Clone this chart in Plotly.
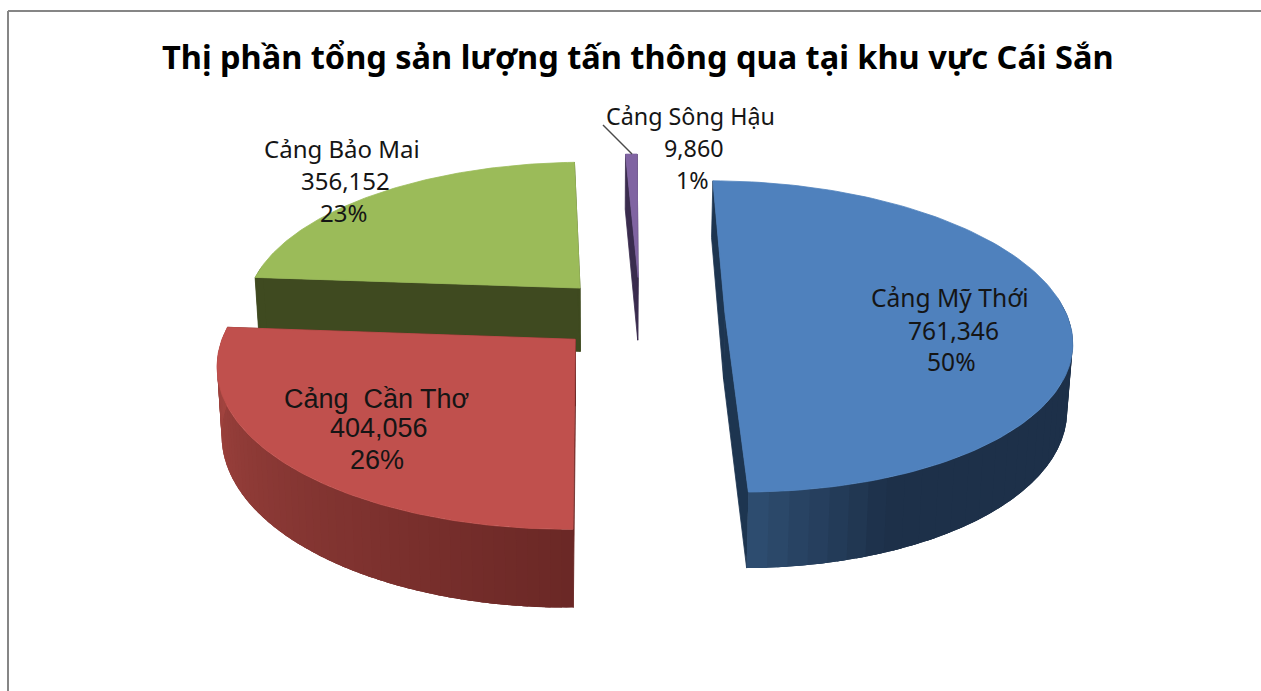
import numpy as np
import plotly.graph_objects as go

title = "Thị phần tổng sản lượng tấn thông qua tại khu vực Cái Sắn"
categories = ["Cảng Mỹ Thới", "Cảng Cần Thơ", "Cảng Bảo Mai", "Cảng Sông Hậu"]
values = [761346, 404056, 356152, 9860]
percent_labels = ["50%", "26%", "23%", "1%"]
top_colors = ["#4F81BD", "#C0504D", "#9BBB59", "#8064A2"]
wall_near = ["#2F4F73", "#6B2826", "#3F4A20", "#3A2C4E"]
wall_far = ["#1D3049", "#A54641", "#3F4A20", "#3A2C4E"]

# view of the pie
CX, CY, A, B, K, H, ROT = 615.0, 313.8, 338.0, 150.8, 0.144, 65.0, 0.354
SQUEEZE, SQ_X = 0.988, 600.0
explode = [(0.3255, 0.0), (-0.115, -0.165), (-0.106, 0.175), (0.071, 0.25)]
radius = [1.01, 1.02, 1.0, 1.0]

def project(X, Y, down=0.0):
    w = 1 + K * Y
    sx = CX + A * X / w
    sy = CY - B * Y / w + down * H / w
    sx = SQ_X + (sx - SQ_X) * (1 - (1 - SQUEEZE) * down)
    return sx, sy

total = sum(values)
edges = np.concatenate([[0], np.cumsum(values)]) / total * 360 + ROT

def hexmix(c1, c2, t):
    a = [int(c1[i:i + 2], 16) for i in (1, 3, 5)]
    b = [int(c2[i:i + 2], 16) for i in (1, 3, 5)]
    return "#%02x%02x%02x" % tuple(int(round(p + (q - p) * t)) for p, q in zip(a, b))

fig = go.Figure()

def poly(xs, ys, color, outline=True):
    fig.add_trace(go.Scatter(x=xs, y=ys, mode="lines" if outline else "none", fill="toself", fillcolor=color,
                             line=dict(color=color, width=0.8), hoverinfo="skip", showlegend=False))

def draw_slice(i):
    t0, t1 = np.radians(edges[i]), np.radians(edges[i + 1])
    ex, ey = explode[i]
    r = radius[i]
    def pt(t):
        return ex + r * np.sin(t), ey + r * np.cos(t)
    ang = np.linspace(t0, t1, 121)
    X, Y = pt(ang)
    # straight walls
    edge_colors = {0: "#1D3550", 1: "#6B2826"}
    for t in (t0, t1):
        px, py = pt(t)
        x0, y0 = project(ex, ey)
        x1, y1 = project(px, py)
        x2, y2 = project(px, py, 1.0)
        x3, y3 = project(ex, ey, 1.0)
        poly([x0, x1, x2, x3, x0], [y0, y1, y2, y3, y0], edge_colors.get(i, wall_far[i]))
    # outer wall in overlapping strips, only where it faces the viewer
    n = 60
    strips = np.linspace(t0, t1, n + 1)
    step = strips[1] - strips[0]
    # order so that the overlap always falls the same way
    for j in range(n):
        a, b = strips[j], strips[j + 1]
        mid = (a + b) / 2
        if np.cos(mid) > 0.12:
            continue
        aa = np.linspace(a, min(b + 1.5 * step, t1), 5)
        xx, yy = pt(aa)
        sx, sy = project(xx, yy)
        bx, by = project(xx[::-1], yy[::-1], 1.0)
        if i == 0:
            f = min(1.0, max(0.0, (np.pi - mid) / 0.38))
            c = hexmix(wall_near[0], wall_far[0], f)
        elif i == 1:
            f = min(1.0, max(0.0, (mid - np.pi) / (np.radians(edges[2]) - np.pi)))
            c = hexmix(wall_near[1], wall_far[1], f)
        else:
            c = wall_far[i]
        poly(list(sx) + list(bx) + [sx[0]], list(sy) + list(by) + [sy[0]], c, outline=False)
    # top
    sx, sy = project(X, Y)
    ax, ay = project(ex, ey)
    poly([ax] + list(sx) + [ax], [ay] + list(sy) + [ay], top_colors[i])

for i in (2, 3, 0, 1):
    draw_slice(i)

name_text = [categories[0], categories[1].replace(" ", "\u00a0 ", 1), categories[2], categories[3]]
label_fonts = [("Noto Sans", 24.6), ("Liberation Sans", 27), ("Noto Sans", 24), ("Noto Sans", 23.3)]
label_x = [(950, 953, 951), (376, 379, 377), (342, 345, 343), (690, 694, 692)]
label_y = [(297, 330, 361), (399, 428, 460), (148, 180, 212), (116, 148, 180)]

annotations = [dict(text=f"<b>{title}</b>", x=638, y=56, xref="x", yref="y", showarrow=False,
                    font=dict(family="Noto Sans", size=32.5, color="#000000"))]
for i in range(4):
    lines = [name_text[i], f"{values[i]:,}", percent_labels[i]]
    for k, txt in enumerate(lines):
        annotations.append(dict(text=txt, x=label_x[i][k], y=label_y[i][k], xref="x", yref="y", showarrow=False,
                                font=dict(family=label_fonts[i][0], size=label_fonts[i][1], color="#151515")))

shapes = [
    dict(type="line", x0=8, x1=8, y0=11, y1=691, line=dict(color="#868686", width=2), layer="below"),
    dict(type="line", x0=8, x1=1261, y0=11, y1=11, line=dict(color="#868686", width=2), layer="below"),
    dict(type="line", x0=603, y0=125, x1=632, y1=154, line=dict(color="#4a4a4a", width=1.5)),
]

fig.update_layout(
    width=1261, height=691, margin=dict(l=0, r=0, t=0, b=0),
    paper_bgcolor="white", plot_bgcolor="white", showlegend=False,
    xaxis=dict(range=[0, 1261], visible=False, fixedrange=True),
    yaxis=dict(range=[691, 0], visible=False, fixedrange=True),
    annotations=annotations, shapes=shapes,
)
fig.write_html("out.html", config={"displayModeBar": False},
               post_script="document.body.style.margin='0';document.body.style.overflow='hidden';")
